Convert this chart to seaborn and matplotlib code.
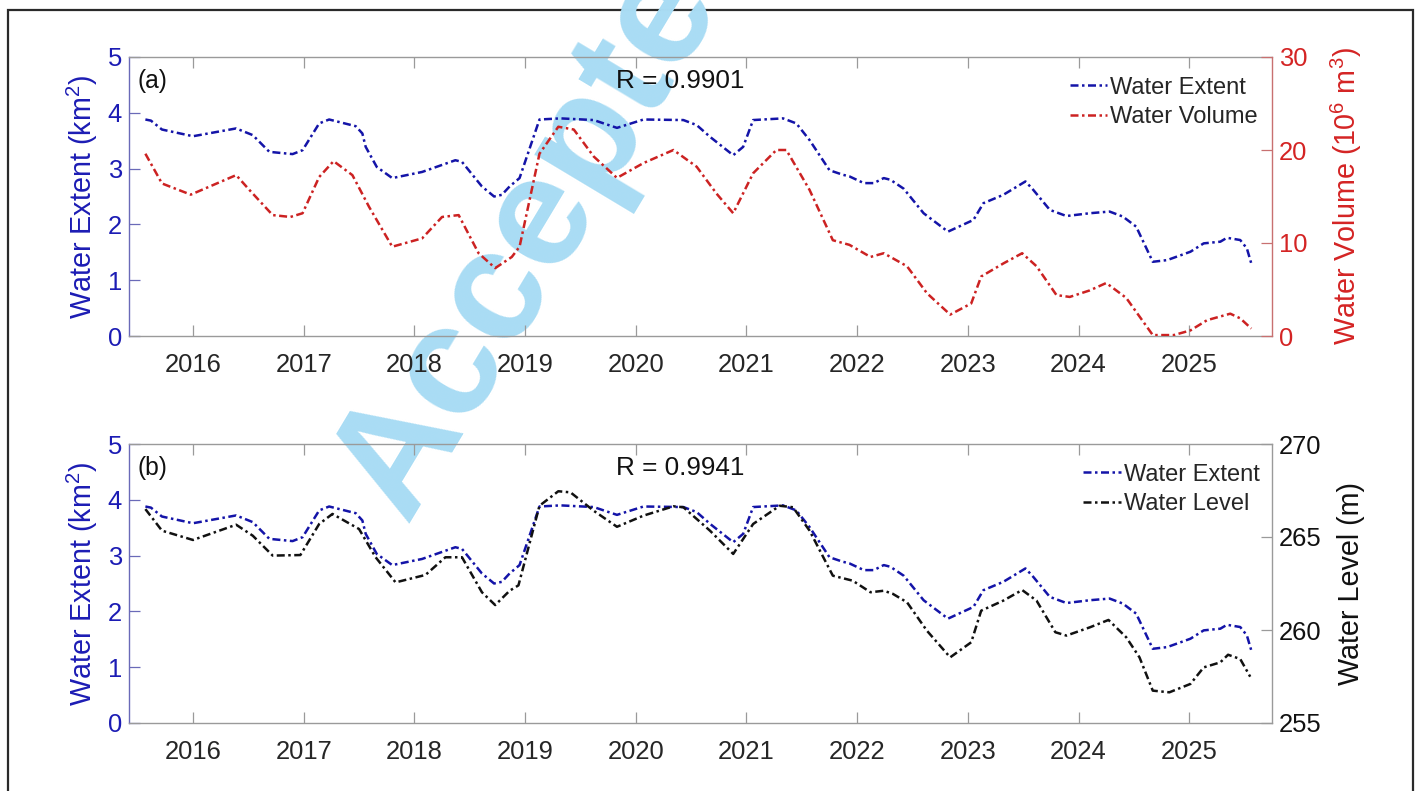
import numpy as np
import pandas as pd
import matplotlib
matplotlib.use("Agg")
import matplotlib.pyplot as plt
from matplotlib.patches import Rectangle
import seaborn as sns

# ---------------- data (decimal years) ----------------
ext_year = [2015.57, 2015.62, 2015.72, 2016.00, 2016.39, 2016.54, 2016.69, 2016.90, 2016.99,
            2017.14, 2017.23, 2017.47, 2017.53, 2017.56, 2017.66, 2017.80, 2018.07, 2018.37,
            2018.43, 2018.61, 2018.72, 2018.79, 2018.86, 2018.95, 2019.13, 2019.32, 2019.62,
            2019.83, 2020.07, 2020.43, 2020.55, 2020.67, 2020.88, 2020.97, 2021.06, 2021.33,
            2021.45, 2021.57, 2021.75, 2021.87, 2021.93, 2022.06, 2022.15, 2022.24, 2022.30,
            2022.42, 2022.60, 2022.82, 2023.05, 2023.14, 2023.32, 2023.52, 2023.59, 2023.74,
            2023.89, 2024.10, 2024.28, 2024.40, 2024.52, 2024.67, 2024.80, 2025.01, 2025.13,
            2025.28, 2025.34, 2025.46, 2025.52, 2025.56]
ext_km2 = [3.88, 3.86, 3.70, 3.58, 3.72, 3.60, 3.30, 3.26, 3.33,
           3.81, 3.88, 3.76, 3.63, 3.39, 3.03, 2.83, 2.94, 3.15,
           3.12, 2.68, 2.50, 2.53, 2.68, 2.83, 3.88, 3.90, 3.87,
           3.73, 3.88, 3.87, 3.78, 3.57, 3.24, 3.39, 3.87, 3.90,
           3.81, 3.51, 2.97, 2.89, 2.86, 2.74, 2.74, 2.83, 2.80,
           2.64, 2.20, 1.87, 2.08, 2.38, 2.53, 2.77, 2.62, 2.26,
           2.15, 2.20, 2.23, 2.14, 1.96, 1.33, 1.36, 1.51, 1.66,
           1.69, 1.76, 1.72, 1.57, 1.30]

vol_year = [2015.57, 2015.72, 2015.98, 2016.39, 2016.51, 2016.72, 2016.88, 2016.99, 2017.14,
            2017.27, 2017.44, 2017.59, 2017.80, 2018.07, 2018.25, 2018.40, 2018.58, 2018.73,
            2018.88, 2018.95, 2019.13, 2019.30, 2019.44, 2019.62, 2019.83, 2020.07, 2020.34,
            2020.55, 2020.73, 2020.88, 2021.06, 2021.27, 2021.36, 2021.57, 2021.78, 2021.93,
            2022.12, 2022.24, 2022.33, 2022.45, 2022.63, 2022.84, 2023.03, 2023.12, 2023.32,
            2023.49, 2023.62, 2023.80, 2023.92, 2024.10, 2024.25, 2024.43, 2024.55, 2024.67,
            2024.86, 2025.01, 2025.16, 2025.37, 2025.46, 2025.56]
vol_1e6m3 = [19.6, 16.4, 15.2, 17.3, 15.7, 13.0, 12.8, 13.2, 17.1,
             18.8, 17.3, 13.9, 9.6, 10.5, 12.8, 13.0, 8.9, 7.3,
             8.5, 9.6, 19.6, 22.5, 22.2, 19.3, 17.0, 18.6, 20.0,
             18.2, 15.3, 13.2, 17.5, 20.0, 20.0, 15.7, 10.3, 9.8,
             8.5, 8.9, 8.3, 7.5, 4.6, 2.3, 3.5, 6.4, 7.8,
             8.9, 7.5, 4.4, 4.2, 4.9, 5.7, 4.1, 2.1, 0.1,
             0.1, 0.6, 1.7, 2.4, 1.9, 0.8]

lvl_year = [2015.57, 2015.72, 2016.00, 2016.39, 2016.54, 2016.72, 2016.97, 2017.14, 2017.26,
            2017.50, 2017.65, 2017.83, 2018.10, 2018.28, 2018.43, 2018.61, 2018.73, 2018.86,
            2018.94, 2019.13, 2019.30, 2019.41, 2019.62, 2019.83, 2020.07, 2020.34, 2020.43,
            2020.67, 2020.88, 2021.06, 2021.30, 2021.42, 2021.57, 2021.78, 2021.96, 2022.12,
            2022.24, 2022.32, 2022.45, 2022.63, 2022.84, 2023.03, 2023.12, 2023.32, 2023.49,
            2023.62, 2023.79, 2023.89, 2024.10, 2024.27, 2024.43, 2024.55, 2024.67, 2024.82,
            2025.01, 2025.13, 2025.28, 2025.35, 2025.46, 2025.55]
lvl_m = [266.50, 265.34, 264.84, 265.66, 265.07, 264.00, 264.03, 265.70, 266.24,
         265.43, 263.91, 262.56, 262.96, 263.91, 263.91, 262.03, 261.34, 262.11,
         262.40, 266.68, 267.46, 267.40, 266.41, 265.55, 266.15, 266.65, 266.60,
         265.34, 264.09, 265.70, 266.68, 266.60, 265.34, 262.92, 262.65, 262.03,
         262.11, 261.95, 261.49, 259.96, 258.53, 259.34, 261.04, 261.58, 262.15,
         261.58, 259.88, 259.70, 260.14, 260.54, 259.61, 258.53, 256.74, 256.65,
         257.10, 257.99, 258.26, 258.67, 258.44, 257.49]

year_ticks = list(range(2016, 2026))
extent_ticks = [0, 1, 2, 3, 4, 5]
volume_ticks = [0, 10, 20, 30]
level_ticks = [255, 260, 265, 270]
r_volume = "R = 0.9901"
r_level = "R = 0.9941"

# ---------------- style ----------------
sns.set_theme(style="white")
plt.rcParams["font.family"] = ["Liberation Sans", "DejaVu Sans"]
plt.rcParams["mathtext.fontset"] = "custom"
plt.rcParams["mathtext.rm"] = "Liberation Sans"

BLUE = "#1414a8"
BLUE_TXT = "#1c1cb4"
RED = "#cc2222"
RED_TXT = "#d42424"
BLACK = "#111111"
TXT = "#262626"
SPINE = "#9a9a9a"
LS = (0, (3.2, 1.4, 1.0, 1.4))
LW = 1.8
TICK_FS = 18.4
LABEL_FS = 20.7
LEG_FS = 17

fig = plt.figure(figsize=(14.18, 7.91), dpi=100)
fig.patch.set_facecolor("white")

W, H = 1418.0, 791.0
left, right = 129, 1272
XMIN, XMAX = 2015.422, 2025.747

# outer frame around the figure
fig.patches.append(Rectangle((8 / W, -0.05), (1413 - 8) / W, 1 - 10 / H + 0.05,
                             transform=fig.transFigure, fill=False,
                             edgecolor="#2a2a2a", linewidth=1.6, zorder=-2))

# diagonal watermark
fig.text(406 / W, 1 - 524 / H, "Accepted", rotation=59, rotation_mode="anchor",
         ha="left", va="baseline", fontsize=113, fontweight="bold",
         color="#a9dcf4", zorder=-1)


def make_panel(top, bottom, tag, rtxt, y2_vals, y2_year, y2_ticks, y2_lim,
               y2_color, y2_txt_color, y2_spine, y2_label, y2_name, y2_lx):
    ax = fig.add_axes([left / W, 1 - bottom / H, (right - left) / W, (bottom - top) / H])
    ax.set_facecolor("none")
    ax2 = ax.twinx()
    ax2.set_facecolor("none")

    sns.lineplot(x=ext_year, y=ext_km2, ax=ax, color=BLUE, linewidth=LW,
                 linestyle=LS, estimator=None, sort=False, label="Water Extent",
                 legend=False)
    sns.lineplot(x=y2_year, y=y2_vals, ax=ax2, color=y2_color, linewidth=LW,
                 linestyle=LS, estimator=None, sort=False, label=y2_name,
                 legend=False)

    ax.set_xlim(XMIN, XMAX)
    ax.set_ylim(0, 5)
    ax.set_xticks(year_ticks)
    ax.set_xticklabels([str(y) for y in year_ticks])
    ax.set_yticks(extent_ticks)
    ax2.set_ylim(*y2_lim)
    ax2.set_yticks(y2_ticks)

    ax.tick_params(axis="x", direction="in", length=8, width=0.9, top=True,
                   bottom=True, color=SPINE, labelsize=TICK_FS, labelcolor=TXT, pad=12)
    ax.tick_params(axis="y", direction="in", length=8, width=0.9, left=True,
                   right=False, color="#6a6ab8", labelsize=TICK_FS,
                   labelcolor=BLUE_TXT, pad=5)
    ax2.tick_params(axis="y", direction="in", length=8, width=0.9, right=True,
                    color=y2_spine, labelsize=TICK_FS, labelcolor=y2_txt_color, pad=5)

    for s in ("top", "bottom"):
        ax.spines[s].set_color(SPINE)
        ax.spines[s].set_linewidth(1.0)
    ax.spines["left"].set_color("#6a6ab8")
    ax.spines["left"].set_linewidth(1.0)
    ax.spines["right"].set_visible(False)
    for s in ("top", "bottom", "left"):
        ax2.spines[s].set_visible(False)
    ax2.spines["right"].set_color(y2_spine)
    ax2.spines["right"].set_linewidth(1.0)

    ax.set_xlabel("")
    ax.set_ylabel(r"Water Extent (km$\mathregular{^2}$)", fontsize=LABEL_FS, color=BLUE_TXT)
    ax.yaxis.set_label_coords(-0.025, 0.5)
    ax2.set_ylabel(y2_label, fontsize=LABEL_FS, color=y2_txt_color)
    ax2.yaxis.set_label_coords(y2_lx, 0.5)

    ax.text(0.007, 0.915, tag, transform=ax.transAxes, fontsize=17.7,
            color=BLACK, ha="left", va="center")
    ax.text(0.482, 0.915, rtxt, transform=ax.transAxes, fontsize=18.8,
            color=BLACK, ha="center", va="center")

    h1, l1 = ax.get_legend_handles_labels()
    h2, l2 = ax2.get_legend_handles_labels()
    return ax, ax2, h1 + h2, l1 + l2


legend_kw = dict(loc="upper left", frameon=False, fontsize=LEG_FS, handlelength=1.6,
                 handletextpad=0.1, labelspacing=0.32, borderpad=0, borderaxespad=0)

ax_a, ax_a2, ha, la = make_panel(57, 336, "(a)", r_volume, vol_1e6m3, vol_year,
                                 volume_ticks, (0, 30), RED, RED_TXT, "#c87070",
                                 r"Water Volume (10$\mathregular{^6}$ m$\mathregular{^3}$)",
                                 "Water Volume", 1.050)
ax_a2.legend(ha, la, bbox_to_anchor=(0.823, 0.93), **legend_kw)

ax_b, ax_b2, hb, lb = make_panel(444, 723, "(b)", r_level, lvl_m, lvl_year,
                                 level_ticks, (255, 270), BLACK, BLACK, SPINE,
                                 "Water Level (m)", "Water Level", 1.057)
ax_b2.legend(hb, lb, bbox_to_anchor=(0.835, 0.93), **legend_kw)

fig.savefig("out.png", dpi=100, facecolor="white")
